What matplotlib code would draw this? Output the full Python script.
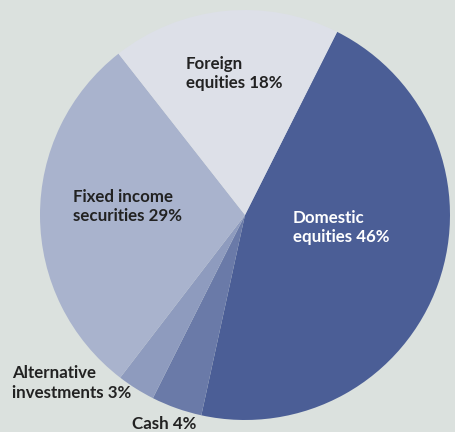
import matplotlib
matplotlib.use("Agg")
import matplotlib.pyplot as plt

# portfolio allocation, clockwise from the top-right
labels = ["Domestic\nequities 46%", "Cash 4%", "Alternative\ninvestments 3%",
          "Fixed income\nsecurities 29%", "Foreign\nequities 18%"]
shares = [46, 4, 3, 29, 18]
colors = ["#4b5e96", "#6a7aa8", "#8e9bbe", "#a9b3cd", "#dde0e8"]
label_pos = [(0.234, -0.06), (-0.55, -1.02), (-1.137, -0.82), (-0.84, 0.04), (-0.288, 0.69)]
label_col = ["white", "#222222", "#222222", "#222222", "#222222"]

bg = "#dbe1de"
fig = plt.figure(figsize=(4.56, 4.32), dpi=100)
fig.patch.set_facecolor(bg)
ax = fig.add_axes([40 / 456, 12 / 432, 410 / 456, 410 / 432])
ax.set_facecolor(bg)

ax.pie(shares, colors=colors, startangle=63.3, counterclock=False, radius=1,
       wedgeprops=dict(linewidth=0))

for lab, (x, y), c in zip(labels, label_pos, label_col):
    ax.text(x, y, lab, color=c, fontsize=12.2, fontweight="bold", family="Lato",
            ha="left", va="center", linespacing=1.25, clip_on=False)

ax.set_xlim(-1, 1)
ax.set_ylim(-1, 1)
ax.set_aspect("equal")
ax.axis("off")

fig.savefig("out.png", dpi=100, facecolor=bg)
